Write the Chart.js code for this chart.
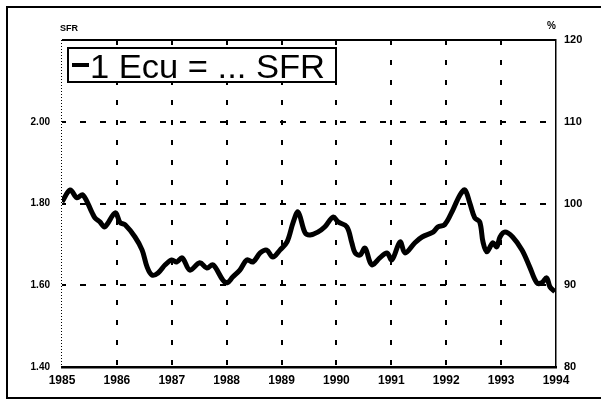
<!DOCTYPE html>
<html>
<head>
<meta charset="utf-8">
<script src="https://cdn.jsdelivr.net/npm/chart.js@4/dist/chart.umd.min.js"></script>
<style>
  html, body { margin: 0; padding: 0; background: #fff; }
  #wrap { width: 601px; height: 402px; position: relative; }
</style>
</head>
<body>
<div id="wrap"><canvas id="chart" width="601" height="402"></canvas></div>
<script>
'use strict';

// ── Data ─────────────────────────────────────────────────────────────────────

const years = [
  1985.00, 1985.15, 1985.27, 1985.38, 1985.55, 1985.60, 1985.69, 1985.78, 1985.97,
  1986.06, 1986.15, 1986.33, 1986.46, 1986.55, 1986.64, 1986.75, 1986.88,
  1987.00, 1987.09, 1987.19, 1987.33, 1987.51, 1987.64, 1987.75, 1987.93,
  1988.01, 1988.11, 1988.24, 1988.37, 1988.48, 1988.61, 1988.73, 1988.84, 1988.97,
  1989.10, 1989.21, 1989.30, 1989.43, 1989.52, 1989.66, 1989.79, 1989.94,
  1990.03, 1990.19, 1990.28, 1990.34, 1990.43, 1990.52, 1990.61, 1990.66, 1990.79, 1990.92,
  1991.01, 1991.16, 1991.25, 1991.43, 1991.56, 1991.76, 1991.85, 1991.97,
  1992.12, 1992.25, 1992.34, 1992.43, 1992.52, 1992.61, 1992.67, 1992.74, 1992.85, 1992.92, 1992.98,
  1993.07, 1993.21, 1993.38, 1993.52, 1993.65, 1993.74, 1993.83, 1993.89, 1993.98,
];

const ecuInSfr = [
  1.804, 1.833, 1.814, 1.821, 1.777, 1.765, 1.755, 1.743, 1.777,
  1.753, 1.748, 1.718, 1.686, 1.645, 1.625, 1.630, 1.650,
  1.662, 1.657, 1.667, 1.637, 1.655, 1.642, 1.650, 1.613,
  1.606, 1.620, 1.637, 1.662, 1.657, 1.679, 1.686, 1.669, 1.686,
  1.706, 1.753, 1.779, 1.728, 1.723, 1.730, 1.743, 1.767,
  1.755, 1.743, 1.704, 1.679, 1.674, 1.691, 1.657, 1.650, 1.667, 1.679,
  1.662, 1.706, 1.679, 1.704, 1.718, 1.730, 1.743, 1.748,
  1.784, 1.821, 1.833, 1.801, 1.765, 1.755, 1.706, 1.682, 1.704, 1.694, 1.718,
  1.730, 1.718, 1.686, 1.645, 1.606, 1.606, 1.618, 1.596, 1.584,
];

const sfrTicks = [1.40, 1.60, 1.80, 2.00, 2.20];
const pctTicks = [80, 90, 100, 110, 120];
const yearTicks = [1985, 1986, 1987, 1988, 1989, 1990, 1991, 1992, 1993, 1994];
const legendLabel = '1 Ecu = ... SFR';

// ── Helpers ──────────────────────────────────────────────────────────────────

const FONT = '"Liberation Sans", Arial, sans-serif';
const inner = (list) => (c) => {
  const v = c.tick.value;
  return (v > list[0] + 1e-6 && v < list[list.length - 1] - 1e-6) ? '#000' : 'rgba(0,0,0,0)';
};

// frame, axis captions, legend box
const decor = {
  id: 'decor',
  beforeDraw(chart) {
    const ctx = chart.ctx;
    ctx.save();
    ctx.fillStyle = '#fff';
    ctx.fillRect(0, 0, chart.width, chart.height);
    ctx.strokeStyle = '#000';
    ctx.lineWidth = 2;
    ctx.beginPath();
    ctx.moveTo(601, 7); ctx.lineTo(7, 7); ctx.lineTo(7, 398); ctx.lineTo(601, 398);
    ctx.stroke();
    ctx.restore();
  },
  afterDraw(chart) {
    const { ctx, chartArea: a } = chart;
    ctx.save();
    ctx.strokeStyle = '#000';
    // top edge
    ctx.lineWidth = 2;
    ctx.beginPath(); ctx.moveTo(a.left, a.top); ctx.lineTo(a.right, a.top); ctx.stroke();
    // dotted left edge
    ctx.lineWidth = 1;
    ctx.setLineDash([1, 2]);
    ctx.beginPath(); ctx.moveTo(a.left - 0.5, a.top); ctx.lineTo(a.left - 0.5, a.bottom); ctx.stroke();
    ctx.setLineDash([]);

    // captions
    ctx.fillStyle = '#000';
    ctx.font = `bold 9px ${FONT}`;
    ctx.textBaseline = 'middle';
    ctx.textAlign = 'left';
    ctx.fillText('SFR', 60, 29);
    ctx.font = `bold 10px ${FONT}`;
    ctx.fillText('%', 547, 26);

    // legend box
    const bx = a.left + 6, by = a.top + 8, bw = 268, bh = 34;
    ctx.fillStyle = '#fff';
    ctx.fillRect(bx, by, bw, bh);
    ctx.lineWidth = 2;
    ctx.strokeRect(bx, by, bw, bh);
    ctx.lineWidth = 4;
    ctx.beginPath(); ctx.moveTo(bx + 4, by + 17); ctx.lineTo(bx + 21, by + 17); ctx.stroke();
    ctx.fillStyle = '#000';
    ctx.font = `34px ${FONT}`;
    ctx.textBaseline = 'alphabetic';
    const w = ctx.measureText(legendLabel).width;
    ctx.translate(bx + 22, by + 30);
    ctx.scale(235 / w, 1);
    ctx.fillText(legendLabel, 0, 0);
    ctx.restore();
  },
};

// ── Chart ────────────────────────────────────────────────────────────────────

new Chart(document.getElementById('chart'), {
  type: 'line',
  data: {
    datasets: [{
      label: legendLabel,
      data: years.map((x, i) => ({ x, y: ecuInSfr[i] })),
      borderColor: '#000',
      borderWidth: 5,
      pointRadius: 0,
      tension: 0.35,
      yAxisID: 'y',
    }],
  },
  options: {
    responsive: false,
    animation: false,
    layout: { padding: { top: 40, left: 0, right: 0, bottom: 0 } },
    plugins: { legend: { display: false }, tooltip: { enabled: false } },
    scales: {
      x: {
        type: 'linear',
        min: yearTicks[0],
        max: yearTicks[yearTicks.length - 1],
        afterBuildTicks: s => { s.ticks = yearTicks.map(v => ({ value: v })); },
        afterFit: s => { s.height = 35; },
        grid: { color: inner(yearTicks), lineWidth: 2, drawTicks: false },
        border: { display: true, color: '#000', width: 2.5, dash: [5, 15], dashOffset: 0 },
        ticks: {
          padding: 6,
          color: '#000',
          font: { family: FONT, size: 12, weight: 'bold' },
          callback: v => String(v),
        },
      },
      y: {
        position: 'left',
        min: sfrTicks[0],
        max: sfrTicks[sfrTicks.length - 1],
        afterBuildTicks: s => { s.ticks = sfrTicks.map(v => ({ value: v })); },
        afterFit: s => { s.width = 62; },
        grid: { color: inner(sfrTicks), lineWidth: 2, drawTicks: false },
        border: { display: false, dash: [6, 14], dashOffset: 2 },
        ticks: {
          padding: 12,
          color: '#000',
          font: { family: FONT, size: 10, weight: 'bold' },
          callback: v => (Math.abs(v - 2.2) < 1e-6 ? '' : v.toFixed(2)),
        },
      },
      y2: {
        position: 'right',
        min: pctTicks[0],
        max: pctTicks[pctTicks.length - 1],
        afterBuildTicks: s => { s.ticks = pctTicks.map(v => ({ value: v })); },
        afterFit: s => { s.width = 45; },
        grid: { display: false, drawTicks: false },
        border: { display: true, color: '#000', width: 1.5 },
        ticks: {
          padding: 8,
          color: '#000',
          font: { family: FONT, size: 11, weight: 'bold' },
          callback: v => String(v),
        },
      },
    },
  },
  plugins: [decor],
});
</script>
</body>
</html>
